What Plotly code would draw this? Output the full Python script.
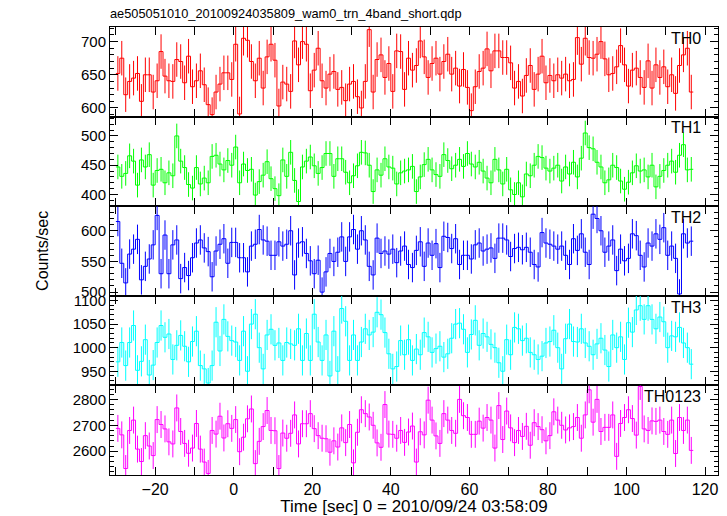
import numpy as np
import plotly.graph_objects as go
from plotly.subplots import make_subplots

title_text = "ae505051010_20100924035809_wam0_trn_4band_short.qdp"
band_names = ["TH0", "TH1", "TH2", "TH3", "TH0123"]
band_colors = ["#ff0000", "#00ff00", "#0000ff", "#00ffff", "#ff00ff"]
t_first_center = -29.5
bin_width = 1.0

th0 = [652, 675, 620, 640, 645, 652, 610, 650, 650, 624,
       641, 685, 648, 641, 640, 673, 670, 638, 678, 632,
       641, 656, 635, 605, 590, 624, 636, 653, 653, 643,
       696, 591, 705, 702, 670, 641, 675, 630, 677, 696,
       672, 603, 639, 636, 625, 701, 665, 700, 696, 626,
       657, 690, 641, 630, 651, 655, 628, 631, 611, 636,
       640, 617, 600, 640, 718, 624, 673, 680, 646, 667,
       625, 686, 685, 628, 675, 657, 664, 701, 677, 646,
       667, 675, 651, 670, 681, 651, 660, 633, 658, 631,
       596, 632, 655, 660, 689, 656, 686, 686, 676, 676,
       668, 630, 640, 618, 649, 664, 628, 651, 678, 638,
       649, 641, 650, 645, 651, 641, 643, 706, 666, 705,
       676, 675, 681, 700, 674, 650, 652, 662, 694, 665,
       633, 657, 660, 646, 631, 671, 630, 665, 646, 662,
       632, 650, 622, 664, 680, 690, 624]

th1 = [447, 431, 436, 466, 457, 416, 459, 447, 468, 416,
       441, 443, 420, 437, 432, 500, 457, 446, 417, 411,
       446, 418, 428, 420, 465, 467, 452, 442, 458, 450,
       481, 420, 452, 441, 443, 399, 422, 433, 456, 427,
       410, 398, 459, 431, 472, 424, 388, 447, 457, 464,
       449, 436, 446, 470, 470, 431, 461, 461, 438, 420,
       432, 449, 472, 471, 450, 405, 442, 433, 461,
       447, 445, 418, 437, 440, 442, 448, 405, 430, 451,
       460, 442, 434, 431, 468, 458, 444, 450, 460, 448,
       470, 452, 447, 455, 440, 428, 420, 460, 442, 418,
       443, 408, 400, 420, 396, 435, 432, 450, 465, 463,
       445, 440, 445, 450, 423, 447, 435, 455, 430, 462,
       505, 480, 478, 455, 447, 420, 425, 450, 446, 423,
       409, 421, 437, 449, 440, 442, 430, 450, 413, 431,
       441, 450, 457, 438, 467, 485, 442, 443]

th2 = [615, 547, 515, 562, 570, 586, 520, 542, 554, 577,
       625, 530, 593, 530, 577, 585, 522, 540, 527, 556,
       580, 585, 572, 566, 525, 567, 578, 587, 547, 581,
       581, 556, 556, 533, 575, 578, 602, 585, 583, 560,
       560, 582, 575, 578, 600, 528, 580, 582, 563, 551,
       530, 552, 500, 533, 563, 550, 565, 590, 550, 590,
       602, 570, 600, 585, 542, 528, 588, 563, 567,
       562, 570, 548, 567, 575, 545, 540, 568, 582, 542,
       580, 560, 579, 540, 591, 589, 571, 587, 545, 560,
       560, 554, 577, 580, 567, 570, 572, 555, 588, 588,
       585, 558, 571, 573, 569, 573, 565, 545, 541, 597,
       580, 578, 575, 570, 575, 560, 545, 587, 568, 595,
       565, 545, 627, 620, 600, 565, 575, 585, 535, 570,
       551, 555, 595, 592, 560, 541, 580, 575, 595, 586,
       605, 560, 575, 555, 497, 595, 580, 583]

th3 = [970, 1011, 962, 1011, 1047, 952, 971, 1017, 942, 963,
       1011, 1047, 1022, 1029, 975, 1005, 1026, 1003, 970, 1013,
       1035, 962, 955, 925, 962, 1054, 993, 1060, 1024, 1015,
       1012, 973, 1035, 950, 1050, 1071, 1000, 955, 1027, 1039,
       1005, 1010, 973, 1011, 1008, 1005, 1040, 973, 1030, 973,
       1071, 1012, 973, 1027, 940, 1035, 950, 1083, 1056, 973,
       1027, 973, 1012, 1040, 1027, 1033, 1075, 1070, 1032,
       987, 955, 960, 1015, 985, 1017, 973, 997, 985, 1032,
       1023, 990, 998, 1003, 980, 987, 1020, 1050, 1052, 1039,
       990, 1028, 1058, 1005, 1030, 1023, 1007, 1000, 968, 950,
       1017, 985, 1043, 1040, 1015, 1020, 990, 985, 975, 982,
       1010, 1013, 1037, 1000, 955, 1019, 1050, 1013, 1012, 1040,
       1010, 1003, 985, 1008, 1020, 995, 960, 1027, 1000, 1023,
       975, 1053, 1033, 1080, 1089, 1060, 1089, 1060, 1040, 1065,
       1055, 1000, 1025, 1023, 1043, 1010, 1000, 965]

th0123 = [2688, 2663, 2533, 2680, 2720, 2608, 2560, 2660, 2620, 2583,
          2722, 2703, 2686, 2636, 2628, 2767, 2676, 2630, 2592, 2612,
          2707, 2608, 2558, 2514, 2680, 2666, 2735, 2651, 2706, 2688,
          2722, 2598, 2654, 2725, 2763, 2552, 2638, 2695, 2757, 2680,
          2679, 2533, 2670, 2650, 2669, 2740, 2628, 2706, 2706, 2745,
          2687, 2660, 2650, 2648, 2596, 2640, 2616, 2690, 2633, 2703,
          2555, 2673, 2760, 2745, 2732, 2700, 2632, 2615, 2780, 2666,
          2665, 2650, 2680, 2634, 2674, 2697, 2558, 2675, 2663, 2797,
          2720, 2659, 2630, 2745, 2720, 2680, 2669, 2800, 2737, 2730,
          2665, 2665, 2716, 2689, 2730, 2720, 2612, 2776, 2645, 2755,
          2690, 2633, 2680, 2657, 2696, 2623, 2710, 2695, 2683, 2640,
          2660, 2752, 2720, 2700, 2682, 2690, 2695, 2730, 2650, 2740,
          2837, 2712, 2800, 2676, 2692, 2692, 2740, 2580, 2707,
          2730, 2760, 2726, 2662, 2850, 2686, 2680, 2717, 2715, 2720,
          2676, 2665, 2720, 2591, 2730, 2680, 2720, 2603]

series = [th0, th1, th2, th3, th0123]
err_half = [26, 21, 24, 32, 52]
y_ranges = [[587, 722], [380, 533], [494, 640], [920, 1110], [2508, 2854]]
y_dticks = [50, 50, 50, 50, 100]
y_minor = [10, 10, 10, 10, 20]
x_range = [-31.5, 123.3]

FONT = "Liberation Sans, Arial, sans-serif"

fig = make_subplots(rows=5, cols=1, shared_xaxes=True, vertical_spacing=0)

for i, (vals, col) in enumerate(zip(series, band_colors)):
    v = np.asarray(vals, dtype=float)
    n = len(v)
    centers = t_first_center + bin_width * np.arange(n)
    edges = np.append(centers - bin_width / 2, centers[-1] + bin_width / 2)
    ystep = np.append(v, v[-1])
    fig.add_trace(go.Scatter(x=edges, y=ystep, mode="lines", line=dict(color=col, width=1, shape="hv"),
                             hoverinfo="skip", showlegend=False), row=i + 1, col=1)
    fig.add_trace(go.Scatter(x=centers, y=v, mode="markers", marker=dict(size=0.1, color=col, opacity=0),
                             error_y=dict(type="constant", value=err_half[i], color=col, thickness=1, width=0),
                             hoverinfo="skip", showlegend=False), row=i + 1, col=1)
    fig.update_yaxes(range=y_ranges[i], dtick=y_dticks[i], ticks="inside", ticklen=8, tickwidth=1,
                     tickcolor="black", minor=dict(dtick=y_minor[i], ticks="inside", ticklen=4, tickcolor="black"),
                     showline=True, linecolor="black", linewidth=1, mirror="allticks", showgrid=False,
                     zeroline=False, tickfont=dict(family=FONT, size=15, color="black"), row=i + 1, col=1)
    fig.update_xaxes(range=x_range, dtick=20, tick0=0, ticks="inside", ticklen=8, tickwidth=1, tickcolor="black",
                     minor=dict(dtick=10, ticks="inside", ticklen=8, tickcolor="black"),
                     showline=True, linecolor="black", linewidth=1, mirror="allticks", showgrid=False,
                     zeroline=False, showticklabels=(i == 4),
                     tickfont=dict(family=FONT, size=16, color="black"), row=i + 1, col=1)
    fig.add_annotation(text=band_names[i], xref="x domain", yref="y domain", x=0.975, y=0.99,
                       xanchor="right", yanchor="top", showarrow=False,
                       font=dict(family=FONT, size=16, color="black"), row=i + 1, col=1)

fig.update_xaxes(title=dict(text="Time [sec] 0 = 2010/09/24 03:58:09", standoff=2,
                            font=dict(family=FONT, size=17, color="black")), row=5, col=1)

fig.add_annotation(text="Counts/sec", xref="paper", yref="paper", x=-0.112, y=0.5, textangle=-90,
                   xanchor="center", yanchor="middle", showarrow=False,
                   font=dict(family=FONT, size=16, color="black"))

fig.update_layout(width=727, height=516, margin=dict(l=110, r=9, t=27, b=41, autoexpand=False),
                  paper_bgcolor="white", plot_bgcolor="white",
                  title=dict(text=title_text, x=110 / 727, xanchor="left", y=1 - 14 / 516, yanchor="middle",
                             automargin=False, font=dict(family=FONT, size=12.8, color="black")))

fig.write_html("out.html", config={"displayModeBar": False},
               post_script="document.body.style.margin='0';document.body.style.padding='0';")
